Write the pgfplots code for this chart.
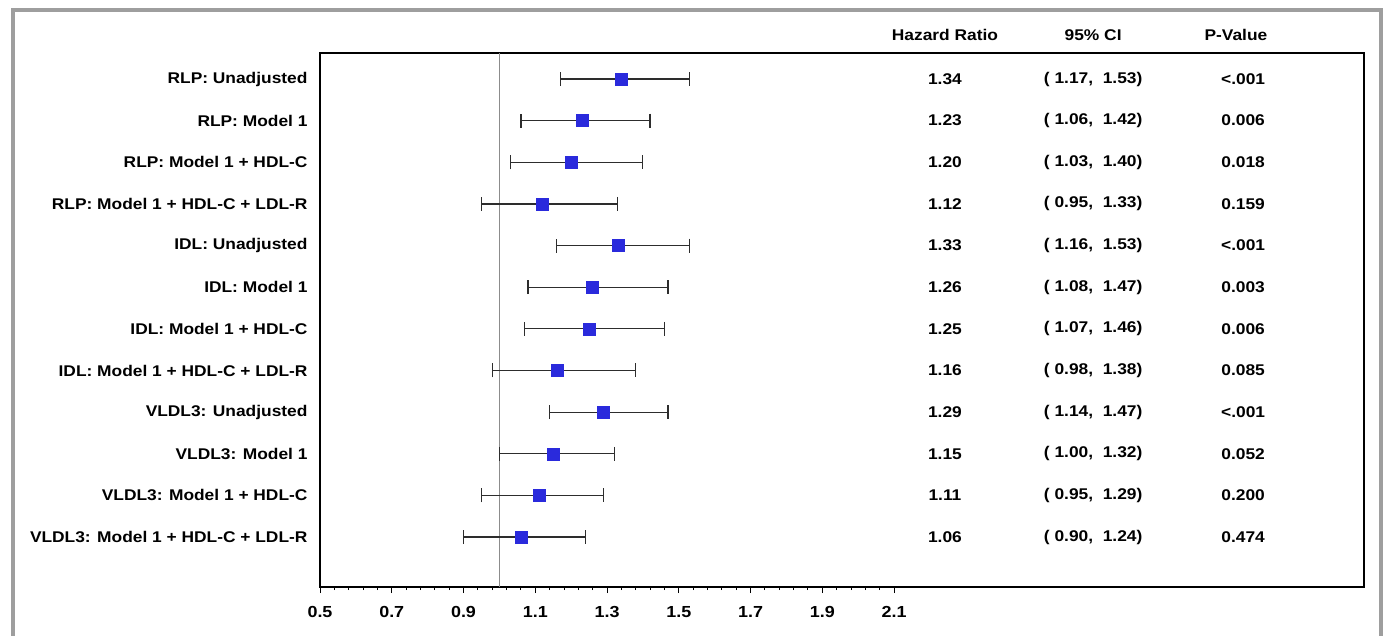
\documentclass[border=0pt]{standalone}
\usepackage{fontspec}
\setmainfont{Liberation Sans}[FakeStretch=1.12]
\usepackage{pgfplots}
\pgfplotsset{compat=1.18}
\usepackage{pgfplotstable}
\definecolor{sq}{RGB}{42,42,220}
\definecolor{frame}{RGB}{158,158,158}
\definecolor{eb}{RGB}{45,45,45}
\definecolor{refl}{RGB}{140,140,140}
\pgfplotstableread{
row hr lo hi
1 1.34 1.17 1.53
2 1.23 1.06 1.42
3 1.20 1.03 1.40
4 1.12 0.95 1.33
5 1.33 1.16 1.53
6 1.26 1.08 1.47
7 1.25 1.07 1.46
8 1.16 0.98 1.38
9 1.29 1.14 1.47
10 1.15 1.00 1.32
11 1.11 0.95 1.29
12 1.06 0.90 1.24
}\data
\newcommand{\tf}{\bfseries\fontsize{15.5}{18}\selectfont}
\newcommand{\rowtxt}[5]{%
  \node[anchor=east, font=\tf, xshift=-9pt] at (axis cs:0.5,#1) {#2};
  \node[font=\tf] at (axis cs:2.242,#1) {#3};
  \node[font=\tf] at (axis cs:2.655,#1) {#4};
  \node[font=\tf] at (axis cs:3.073,#1) {#5};
}
\begin{document}
\begin{tikzpicture}
\useasboundingbox (0pt,0pt) rectangle (1386pt,636pt);
\draw[line width=3.5pt, frame] (13pt,-20pt) -- (13pt,626pt) -- (1381pt,626pt) -- (1381pt,-20pt);
\begin{axis}[
  at={(320pt,49pt)}, anchor=south west,
  scale only axis, width=1044pt, height=534pt,
  xmin=0.5, xmax=3.41, ymin=0.375, ymax=13.2,
  y dir=reverse,
  clip=false,
  axis line style={line width=1.2pt, black},
  xtick={0.5,0.7,0.9,1.1,1.3,1.5,1.7,1.9,2.1},
  xticklabels={0.5,0.7,0.9,1.1,1.3,1.5,1.7,1.9,2.1},
  minor x tick num=4,
  xtick pos=left,
  ytick=\empty,
  tick align=outside,
  major tick length=6pt,
  minor tick length=3pt,
  tick style={black, line width=0.9pt},
  xticklabel style={font=\bfseries\fontsize{16}{18}\selectfont, yshift=-10pt},
]
\addplot[refl, line width=1pt] coordinates {(1,0.375) (1,13.2)};
\addplot[only marks, mark=square*, mark size=6pt, color=sq,
  error bars/.cd, x dir=both, x explicit,
  error mark=|,
  error bar style={eb, line width=1.2pt},
  error mark options={eb, line width=1.2pt, mark size=7pt}]
  table[x=hr, y=row,
        x error plus expr=\thisrow{hi}-\thisrow{hr},
        x error minus expr=\thisrow{hr}-\thisrow{lo}] {\data};
\node[font=\tf] at (axis cs:2.242,-0.06) {Hazard Ratio};
\node[font=\tf] at (axis cs:2.655,-0.06) {95\% CI};
\node[font=\tf] at (axis cs:3.053,-0.06) {P-Value};
\rowtxt{1}{RLP: Unadjusted}{1.34}{(~1.17,~~1.53)}{<.001}
\rowtxt{2}{RLP: Model 1}{1.23}{(~1.06,~~1.42)}{0.006}
\rowtxt{3}{RLP: Model 1 + HDL-C}{1.20}{(~1.03,~~1.40)}{0.018}
\rowtxt{4}{RLP: Model 1 + HDL-C + LDL-R}{1.12}{(~0.95,~~1.33)}{0.159}
\rowtxt{5}{IDL: Unadjusted}{1.33}{(~1.16,~~1.53)}{<.001}
\rowtxt{6}{IDL: Model 1}{1.26}{(~1.08,~~1.47)}{0.003}
\rowtxt{7}{IDL: Model 1 + HDL-C}{1.25}{(~1.07,~~1.46)}{0.006}
\rowtxt{8}{IDL: Model 1 + HDL-C + LDL-R}{1.16}{(~0.98,~~1.38)}{0.085}
\rowtxt{9}{VLDL3: Unadjusted}{1.29}{(~1.14,~~1.47)}{<.001}
\rowtxt{10}{VLDL3: Model 1}{1.15}{(~1.00,~~1.32)}{0.052}
\rowtxt{11}{VLDL3: Model 1 + HDL-C}{1.11}{(~0.95,~~1.29)}{0.200}
\rowtxt{12}{VLDL3: Model 1 + HDL-C + LDL-R}{1.06}{(~0.90,~~1.24)}{0.474}
\end{axis}
\end{tikzpicture}
\end{document}
